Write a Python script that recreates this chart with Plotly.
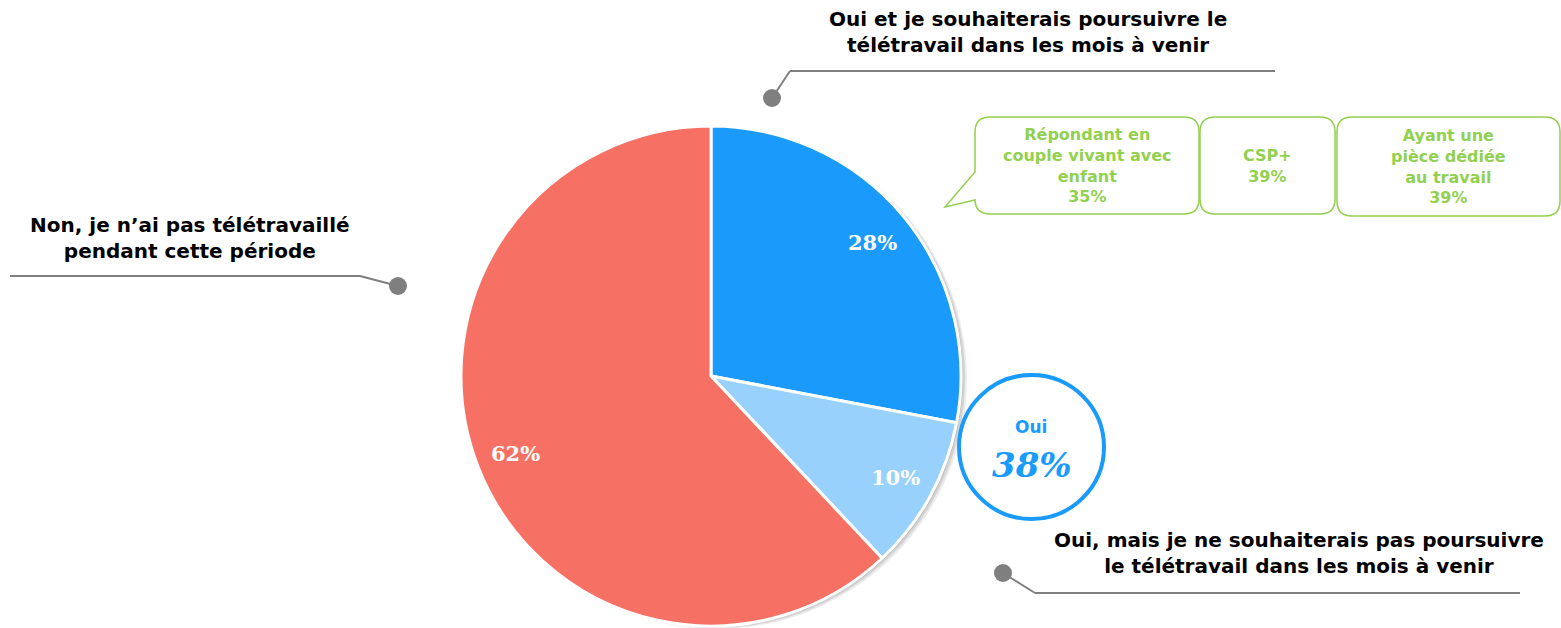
import math
import plotly.graph_objects as go

# ---- data ----
categories = [
    "Oui et je souhaiterais poursuivre le télétravail dans les mois à venir",
    "Oui, mais je ne souhaiterais pas poursuivre le télétravail dans les mois à venir",
    "Non, je n'ai pas télétravaillé pendant cette période",
]
values = [28, 10, 62]
colors = ["#1a9bfc", "#99d1fd", "#f67064"]
oui_total_label = "Oui"
oui_total = 38
box_labels = ["Répondant en<br>couple vivant avec<br>enfant", "CSP+", "Ayant une<br>pièce dédiée<br>au travail"]
box_values = [35, 39, 39]

W, H = 1561, 628
CX, CY, R = 711, 376, 250
LABEL_FONT = "DejaVu Sans"

fig = go.Figure()

fig.add_trace(go.Pie(
    labels=categories, values=values, sort=False, direction="clockwise", rotation=0,
    marker=dict(colors=colors, line=dict(color="white", width=3)),
    textinfo="none", hoverinfo="label+percent", showlegend=False,
    domain=dict(x=[(CX - R) / W, (CX + R) / W], y=[(H - CY - R) / H, (H - CY + R) / H]),
))

annotations = []
# percentage labels computed from data
total = sum(values)
cum = 0
for v in values:
    mid = (cum + v / 2) / total * 2 * math.pi
    cum += v
    px = CX + 0.84 * R * math.sin(mid)
    py = CY - 0.84 * R * math.cos(mid)
    annotations.append(dict(x=px / W, y=1 - py / H, xref="paper", yref="paper", showarrow=False,
                            xanchor="center", yanchor="middle",
                            text=f"<b>{round(v / total * 100)}%</b>",
                            font=dict(family="DejaVu Serif", size=21, color="white")))

shapes = []
grey = "#7f7f7f"
def ln(x0, y0, x1, y1, color=grey, w=2):
    shapes.append(dict(type="line", xref="x", yref="y", x0=x0, y0=y0, x1=x1, y1=y1,
                       line=dict(color=color, width=w)))
def dot(x, y, r=9, color=grey):
    shapes.append(dict(type="circle", xref="x", yref="y", x0=x - r, y0=y - r, x1=x + r, y1=y + r,
                       fillcolor=color, line=dict(width=0)))

# shadow behind the pie
for off, op in [(6, 0.08), (4, 0.10), (2, 0.12)]:
    shapes.append(dict(type="circle", xref="x", yref="y", layer="below",
                       x0=CX - R + off, y0=CY - R + off / 2, x1=CX + R + off, y1=CY + R + off / 2,
                       fillcolor=f"rgba(0,0,0,{op})", line=dict(width=0)))

# leader lines
ln(790, 71, 1275, 71); ln(772, 98, 790, 71); dot(772, 98)
ln(10, 276, 360, 276); ln(360, 276, 398, 286); dot(398, 286)
ln(1035, 593, 1520, 593); ln(1003, 573, 1035, 593); dot(1003, 573)

def txt(x, y, text, size=20, color="black", family=LABEL_FONT):
    annotations.append(dict(x=x / W, y=1 - y / H, xref="paper", yref="paper", showarrow=False,
                            xanchor="center", yanchor="middle",
                            text=text, align="center",
                            font=dict(family=family, size=size, color=color)))

txt(1028, 32, "<b>" + categories[0].replace(" le télé", " le<br>télé") + "</b>")
txt(190, 238, "<b>Non, je n’ai pas télétravaillé<br>pendant cette période</b>")
txt(1299, 553, "<b>Oui, mais je ne souhaiterais pas poursuivre<br>le télétravail dans les mois à venir</b>")

# Oui circle
blue = "#1a9bfc"
shapes.append(dict(type="circle", xref="x", yref="y", x0=959, y0=375, x1=1104, y1=519,
                   line=dict(color=blue, width=4), fillcolor="white"))
txt(1031, 427, f"<b>{oui_total_label}</b>", size=17, color=blue)
txt(1032, 465, f"<b><i>{oui_total}%</i></b>", size=34, color=blue, family="DejaVu Serif")

# green boxes
green = "#92d050"
def rbox(x0, y0, x1, y1, r=15, pointer=False):
    if pointer:
        p = (f"M{x0+r},{y0} L{x1-r},{y0} Q{x1},{y0} {x1},{y0+r} L{x1},{y1-r} Q{x1},{y1} {x1-r},{y1} "
             f"L{x0+r},{y1} Q{x0},{y1} {x0},{y1-r} L{x0},{y1-14} L{x0-30},{y1-7} L{x0},{y0+55} "
             f"L{x0},{y0+r} Q{x0},{y0} {x0+r},{y0} Z")
    else:
        p = (f"M{x0+r},{y0} L{x1-r},{y0} Q{x1},{y0} {x1},{y0+r} L{x1},{y1-r} Q{x1},{y1} {x1-r},{y1} "
             f"L{x0+r},{y1} Q{x0},{y1} {x0},{y1-r} L{x0},{y0+r} Q{x0},{y0} {x0+r},{y0} Z")
    shapes.append(dict(type="path", xref="x", yref="y", path=p, fillcolor="white",
                       line=dict(color=green, width=1.5)))

boxes = [(975, 117, 1199, 214, True), (1200, 117, 1335, 214, False), (1337, 117, 1560, 216, False)]
for (x0, y0, x1, y1, ptr), lab, val in zip(boxes, box_labels, box_values):
    rbox(x0, y0, x1, y1, pointer=ptr)
    txt((x0 + x1) / 2, (y0 + y1) / 2, f"<b>{lab}<br>{val}%</b>", size=16, color=green)

fig.update_layout(
    width=W, height=H, margin=dict(l=0, r=0, t=0, b=0),
    paper_bgcolor="white", plot_bgcolor="rgba(0,0,0,0)",
    xaxis=dict(range=[0, W], visible=False, fixedrange=True),
    yaxis=dict(range=[H, 0], visible=False, fixedrange=True),
    shapes=shapes, annotations=annotations, showlegend=False,
)

fig.write_html("out.html", config={"displayModeBar": False},
               post_script="document.body.style.margin='0';document.body.style.overflow='hidden';")
